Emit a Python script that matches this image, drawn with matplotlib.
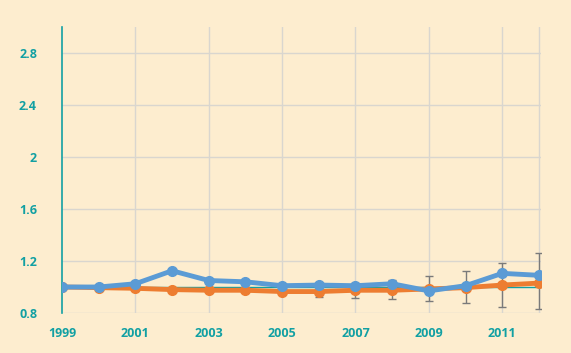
import matplotlib
matplotlib.use("Agg")
from matplotlib import pyplot as plt

years = list(range(1999, 2013))
blue = [1.0, 1.0, 1.025, 1.125, 1.05, 1.04, 1.01, 1.015, 1.01, 1.025, 0.97, 1.01, 1.105, 1.09]
orange = [1.0, 0.995, 0.99, 0.98, 0.975, 0.975, 0.965, 0.965, 0.975, 0.975, 0.985, 0.995, 1.015, 1.03]
err_low = [1.0, 0.99, 0.985, 0.975, 0.97, 0.96, 0.95, 0.925, 0.915, 0.91, 0.89, 0.875, 0.85, 0.83]
err_high = [1.0, 1.0, 0.995, 0.985, 0.98, 0.99, 0.98, 1.005, 1.03, 1.055, 1.085, 1.12, 1.185, 1.26]
yticks = [0.8, 1.2, 1.6, 2.0, 2.4, 2.8]
ytick_labels = ["0.8", "1.2", "1.6", "2", "2.4", "2.8"]
xticks = [1999, 2001, 2003, 2005, 2007, 2009, 2011]

bg = "#fdedcf"
teal = "#12a0a3"

fig = plt.figure(figsize=(5.71, 3.53), dpi=100, facecolor=bg)
ax = fig.add_axes([0.1086, 0.1133, 0.8384, 0.8102], facecolor=bg)

# grid
for y in yticks:
    ax.axhline(y, color="#d9d6cf", lw=1, zorder=0)
for x in xticks[1:] + [2012]:
    ax.axvline(x, color="#d9d6cf", lw=1, zorder=0)
ax.axhline(1.0, color=teal, lw=1, zorder=1)

yerr = [[o - l for o, l in zip(orange, err_low)], [h - o for o, h in zip(orange, err_high)]]
ax.errorbar(years, orange, yerr=yerr, fmt="none", ecolor="#7a7a7a", elinewidth=1, capsize=3, zorder=2)
ax.plot(years, orange, color="#ed7d31", lw=3.5, marker="o", ms=7, zorder=3)
ax.plot(years, blue, color="#5b9bd5", lw=3.5, marker="o", ms=7, zorder=4)

ax.set_xlim(1999, 2012.05)
ax.set_ylim(0.8, 3.0)
ax.set_yticks(yticks)
ax.set_yticklabels(ytick_labels)
ax.set_xticks(xticks)
ax.set_xticklabels([str(x) for x in xticks])
for lab in ax.get_xticklabels() + ax.get_yticklabels():
    lab.set_color(teal)
    lab.set_fontweight("bold")
    lab.set_fontfamily("Open Sans")
    lab.set_fontsize(9)
ax.tick_params(axis="both", length=0)
ax.tick_params(axis="x", pad=10)
ax.tick_params(axis="y", pad=18)
for s in ["top", "right", "bottom"]:
    ax.spines[s].set_visible(False)
ax.spines["left"].set_color(teal)
ax.spines["left"].set_linewidth(1.2)

fig.savefig("out.png", dpi=100, facecolor=bg)
